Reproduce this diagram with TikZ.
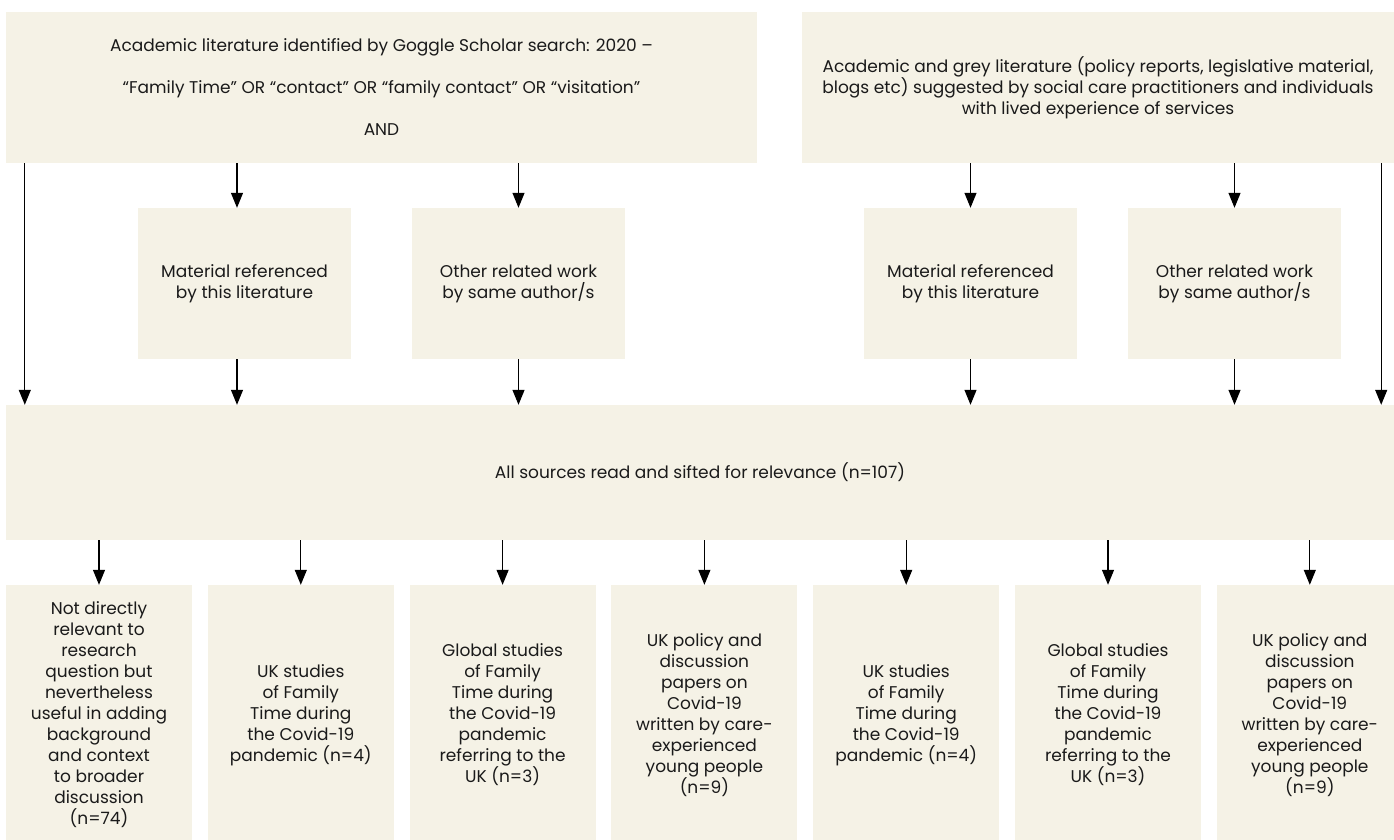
\documentclass[tikz,border=0pt]{standalone}
\usepackage{fontspec}
\setmainfont{Poppins}
\usetikzlibrary{arrows.meta}
\definecolor{beige}{HTML}{F5F2E6}
\definecolor{ink}{HTML}{1A1A1A}
\begin{document}
\begin{tikzpicture}[x=1pt,y=-1pt,
  box/.style={fill=beige, draw=none, inner sep=0pt, align=center, text=ink,
    font=\fontsize{17}{21}\selectfont},
  topbox/.style={box, minimum height=151pt},
  midbox/.style={box, minimum width=213pt, minimum height=151pt},
  botbox/.style={box, minimum width=186pt, minimum height=260pt},
  arr/.style={-{Triangle[length=15pt,width=12pt]}, line width=1.2pt, draw=black}]
\useasboundingbox (0,0) rectangle (1394,840);
\begin{scope}
\clip (0,0) rectangle (1394,840);
% top row
\node[topbox, minimum width=751pt] (tl) at (381.5,87.5)
  {Academic literature identified by Goggle Scholar search: 2020 –\\[21pt]
   “Family Time” OR “contact” OR “family contact” OR “visitation”\\[21pt]
   AND};
\node[topbox, minimum width=592pt] (tr) at (1098,87.5)
  {Academic and grey literature (policy reports, legislative material,\\
   blogs etc) suggested by social care practitioners and individuals\\
   with lived experience of services};
% middle row
\node[midbox] (m1) at (244.5,283.5) {Material referenced\\by this literature};
\node[midbox] (m2) at (518.5,283.5) {Other related work\\by same author/s};
\node[midbox] (m3) at (970.5,283.5) {Material referenced\\by this literature};
\node[midbox] (m4) at (1234.5,283.5) {Other related work\\by same author/s};
% all sources
\node[box, minimum width=1388pt, minimum height=135pt] (all) at (700,472.5)
  {All sources read and sifted for relevance (n=107)};
% bottom row
\node[botbox] (b1) at (99,715) {Not directly\\relevant to\\research\\question but\\nevertheless\\useful in adding\\background\\and context\\to broader\\discussion\\(n=74)};
\node[botbox] (b2) at (300.8,715) {UK studies\\of Family\\Time during\\the Covid-19\\pandemic (n=4)};
\node[botbox] (b3) at (502.6,715) {Global studies\\of Family\\Time during\\the Covid-19\\pandemic\\referring to the\\UK (n=3)};
\node[botbox] (b4) at (704.4,715) {UK policy and\\discussion\\papers on\\Covid-19\\written by care-\\experienced\\young people\\(n=9)};
\node[botbox] (b5) at (906.2,715) {UK studies\\of Family\\Time during\\the Covid-19\\pandemic (n=4)};
\node[botbox] (b6) at (1108,715) {Global studies\\of Family\\Time during\\the Covid-19\\pandemic\\referring to the\\UK (n=3)};
\node[botbox] (b7) at (1309.8,715) {UK policy and\\discussion\\papers on\\Covid-19\\written by care-\\experienced\\young people\\(n=9)};
% connector anchors
\coordinate (c1) at ([xshift=-7.5pt]m1.north);
\coordinate (c1b) at ([xshift=-7.5pt]m1.south);
\coordinate (cL) at ([xshift=19pt]tl.south west);
\coordinate (cR) at ([xshift=-13pt]tr.south east);
% arrows top
\draw[arr] (cL) -- (all.north -| cL);
\draw[arr] (tl.south -| c1) -- (c1);
\draw[arr] (tl.south -| m2.north) -- (m2.north);
\draw[arr] (tr.south -| m3.north) -- (m3.north);
\draw[arr] (tr.south -| m4.north) -- (m4.north);
\draw[arr] (cR) -- (all.north -| cR);
% arrows middle
\draw[arr] (c1b) -- (all.north -| c1b);
\draw[arr] (m2.south) -- (all.north -| m2.south);
\draw[arr] (m3.south) -- (all.north -| m3.south);
\draw[arr] (m4.south) -- (all.north -| m4.south);
% arrows bottom
\foreach \b in {b1,b2,b3,b4,b5,b6,b7}
  \draw[arr] (all.south -| \b.north) -- (\b.north);
\end{scope}
\end{tikzpicture}
\end{document}
